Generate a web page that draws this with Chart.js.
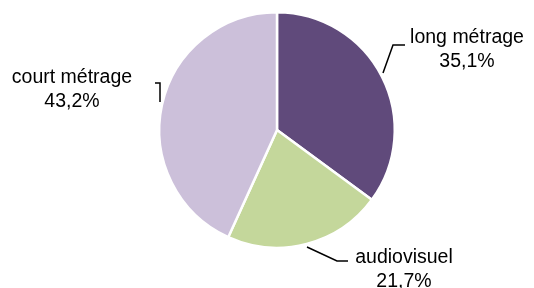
<!DOCTYPE html>
<html>
<head>
<meta charset="utf-8">
<script src="https://cdn.jsdelivr.net/npm/chart.js@4"></script>
<style>
  html, body { margin: 0; padding: 0; background: #fff; }
  #wrap { width: 534px; height: 288px; }
</style>
</head>
<body>
<div id="wrap"><canvas id="pieChart" width="534" height="288"></canvas></div>
<script>
// données du graphique
const categories = ['long métrage', 'audiovisuel', 'court métrage'];
const valeurs = [35.1, 21.7, 43.2];
const couleurs = ['#604a7b', '#c4d79b', '#ccc0da'];

// position des étiquettes par rapport au centre du camembert et points de la ligne de rappel
const etiquettes = [
    { dx: 190, dy: -92, ligne: [[106, -57], [116, -85], [128, -85]] },
    { dx: 127, dy: 128, ligne: [[30, 117], [60, 131], [71, 131]] },
    { dx: -205, dy: -52, ligne: [[-122, -47], [-117, -47], [-117, -28]] }
];

const labelPlugin = {
    id: 'etiquettes',
    afterDraw(chart) {
        const ctx = chart.ctx;
        const meta = chart.getDatasetMeta(0);
        ctx.save();
        ctx.font = '19.5px "Liberation Sans", Arial, sans-serif';
        ctx.fillStyle = '#000';
        ctx.textAlign = 'center';
        ctx.textBaseline = 'middle';
        meta.data.forEach((arc, i) => {
            const p = arc.getProps(['x', 'y'], true);
            const e = etiquettes[i];
            // ligne de rappel
            ctx.beginPath();
            ctx.strokeStyle = '#000';
            ctx.lineWidth = 1.5;
            e.ligne.forEach((pt, k) => {
                if (k === 0) ctx.moveTo(p.x + pt[0], p.y + pt[1]);
                else ctx.lineTo(p.x + pt[0], p.y + pt[1]);
            });
            ctx.stroke();
            const txt = valeurs[i].toFixed(1).replace('.', ',') + '%';
            ctx.fillText(categories[i], p.x + e.dx, p.y + e.dy);
            ctx.fillText(txt, p.x + e.dx, p.y + e.dy + 24);
        });
        ctx.restore();
    }
};

new Chart(document.getElementById('pieChart').getContext('2d'), {
    type: 'pie',
    data: {
        labels: categories,
        datasets: [{
            data: valeurs,
            backgroundColor: couleurs,
            borderColor: '#ffffff',
            borderWidth: 2.5
        }]
    },
    options: {
        responsive: false,
        animation: false,
        layout: { padding: { top: 11, bottom: 39, left: 158, right: 138 } },
        plugins: {
            legend: { display: false },
            tooltip: { enabled: false }
        }
    },
    plugins: [labelPlugin]
});
</script>
</body>
</html>
